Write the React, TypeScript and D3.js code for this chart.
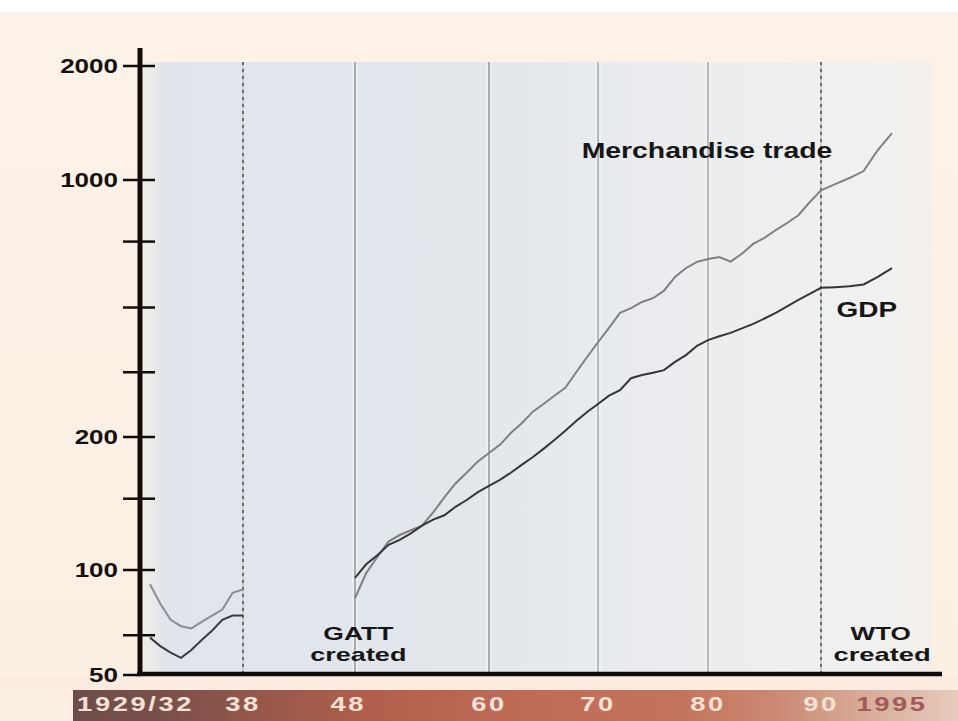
import React from "react";
import * as d3 from "d3";

// ---------- data ----------
const prewarYears = [1929, 1930, 1931, 1932, 1933, 1934, 1935, 1936, 1937, 1938];
const prewarMerch = [91, 80, 72, 69, 68, 71, 74, 77, 86, 88];
const prewarGdp = [64, 60.5, 58, 56, 59, 63, 67, 72, 74, 74];

const postwarYears = [
  1948, 1949, 1950, 1951, 1952, 1953, 1954, 1955, 1956, 1957, 1958, 1959,
  1960, 1961, 1962, 1963, 1964, 1965, 1966, 1967, 1968, 1969, 1970, 1971,
  1972, 1973, 1974, 1975, 1976, 1977, 1978, 1979, 1980, 1981, 1982, 1983,
  1984, 1985, 1986, 1987, 1988, 1989, 1990, 1991, 1992, 1993, 1994, 1995,
];
const postwarMerch = [
  83, 98, 107, 116, 120, 123, 126, 135, 146, 157, 166, 176,
  184, 192, 205, 218, 234, 246, 259, 272, 300, 330, 362, 396,
  435, 448, 466, 477, 500, 545, 576, 599, 610, 617, 600, 630,
  670, 696, 731, 764, 802, 871, 938, 975, 1012, 1056, 1200, 1330,
];
const postwarGdp = [
  95, 103, 108, 114, 117, 121, 126, 130, 133, 139, 144, 150,
  155, 160, 166, 173, 180, 188, 197, 208, 221, 234, 246, 259,
  268, 289, 295, 299, 304, 320, 334, 354, 367, 376, 384, 395,
  406, 420, 435, 453, 472, 490, 509, 511, 514, 520, 545, 576,
];

const yTickValues = [50, 65, 100, 145, 200, 300, 450, 680, 1000, 2000];
const yLabelValues = [50, 100, 200, 1000, 2000];

const gridYears = [1938, 1948, 1960, 1970, 1980, 1990];
const xTickLabels = ["1929/32", "38", "48", "60", "70", "80", "90", "1995"];
const xTickLabelYears = [1927.6, 1938, 1947.4, 1960, 1970, 1980, 1990, 1995];

// ---------- layout ----------
const W = 958;
const H = 721;
const plotTop = 62;
const plotBottom = 672;
const plotLeft = 143;
const plotRight = 932;
const axisX = 140;
const axisY = 674;

const xBreakYears = [1929, 1938, 1948, 1960, 1970, 1980, 1990, 1995];
const xBreakPx = [150, 243, 355, 489, 598, 708, 821, 892];
const yBreakValues = [50, 100, 200, 1000, 2000];
const yBreakPx = [675, 570, 437, 180, 66];

const FONT = "'Liberation Sans', Arial, Helvetica, sans-serif";

type STextProps = {
  x: number;
  y: number;
  size: number;
  anchor?: "start" | "middle" | "end";
  sx?: number;
  fill?: string;
  weight?: number;
  ls?: number;
  children: React.ReactNode;
};

function SText({ x, y, size, anchor = "start", sx = 1.3, fill = "#161616", weight = 700, ls = 0, children }: STextProps) {
  return (
    <text
      transform={`translate(${x},${y}) scale(${sx},1)`}
      textAnchor={anchor}
      fontSize={size}
      fontWeight={weight}
      fill={fill}
      fontFamily={FONT}
      letterSpacing={ls}
      dominantBaseline="central"
    >
      {children}
    </text>
  );
}

export default function App() {
  React.useEffect(() => {
    document.body.style.margin = "0";
  }, []);

  const x = d3.scaleLinear().domain(xBreakYears).range(xBreakPx);
  const y = d3.scaleLog().domain(yBreakValues).range(yBreakPx);

  const mkLine = (years: number[]) =>
    d3
      .line<number>()
      .x((_, i) => x(years[i]))
      .y((d) => y(d));

  const preLine = mkLine(prewarYears);
  const postLine = mkLine(postwarYears);

  const isDotted = (yr: number) => yr === 1938 || yr === 1990;

  return (
    <svg width={W} height={H} style={{ position: "absolute", left: 0, top: 0, display: "block" }}>
      <defs>
        <linearGradient id="plotBg" x1="0" x2="1" y1="0" y2="0">
          <stop offset="0" stopColor="#f1ede8" />
          <stop offset="0.03" stopColor="#dfe5eb" />
          <stop offset="0.4" stopColor="#e2e7ec" />
          <stop offset="0.65" stopColor="#eaecef" />
          <stop offset="0.95" stopColor="#f1f1f0" />
          <stop offset="1" stopColor="#f5efe9" />
        </linearGradient>
        <linearGradient id="bandBg" x1="0" x2="1" y1="0" y2="0">
          <stop offset="0" stopColor="#6e4c4a" />
          <stop offset="0.1" stopColor="#7a4f4a" />
          <stop offset="0.2" stopColor="#93574b" />
          <stop offset="0.33" stopColor="#b05f4c" />
          <stop offset="0.5" stopColor="#be6b56" />
          <stop offset="0.68" stopColor="#c3735c" />
          <stop offset="0.8" stopColor="#cb8a74" />
          <stop offset="0.9" stopColor="#d9ad9a" />
          <stop offset="1" stopColor="#e6cbbd" />
        </linearGradient>
        <linearGradient id="topFade" x1="0" x2="0" y1="0" y2="1">
          <stop offset="0" stopColor="#fdf2e8" />
          <stop offset="1" stopColor="#fbeee3" />
        </linearGradient>
      </defs>

      {/* page background */}
      <rect x={0} y={0} width={W} height={H} fill="url(#topFade)" />
      <rect x={0} y={0} width={W} height={12} fill="#ffffff" />

      {/* plot background */}
      <rect x={plotLeft} y={plotTop} width={plotRight - plotLeft} height={plotBottom - plotTop} fill="url(#plotBg)" />

      {/* bottom strip and band */}
      <rect x={0} y={axisY + 2} width={W} height={14} fill="#fbece2" />
      <rect x={73} y={690} width={W - 73} height={H - 690} fill="url(#bandBg)" />

      {/* vertical gridlines */}
      {gridYears.map((yr) => {
        const gx = x(yr);
        if (isDotted(yr)) {
          return (
            <g key={yr}>
              <line x1={gx} x2={gx} y1={plotTop} y2={plotBottom} stroke="#c9cbcd" strokeWidth={2} />
              <line x1={gx} x2={gx} y1={plotTop} y2={plotBottom} stroke="#6b6b6b" strokeWidth={2} strokeDasharray="3,4" />
            </g>
          );
        }
        const col = yr === 1948 || yr === 1960 ? "#a9abad" : "#b6b8ba";
        return (
          <g key={yr}>
            <line x1={gx} x2={gx} y1={plotTop} y2={plotBottom} stroke="#f4f5f6" strokeWidth={6} opacity={0.6} />
            <line x1={gx} x2={gx} y1={plotTop} y2={plotBottom} stroke={col} strokeWidth={2} />
          </g>
        );
      })}

      {/* data lines */}
      <path d={preLine(prewarMerch) || ""} fill="none" stroke="#8d8d8f" strokeWidth={2} />
      <path d={preLine(prewarGdp) || ""} fill="none" stroke="#3c3c3e" strokeWidth={2} />
      <path d={postLine(postwarMerch) || ""} fill="none" stroke="#808082" strokeWidth={2} />
      <path d={postLine(postwarGdp) || ""} fill="none" stroke="#363638" strokeWidth={2} />

      {/* axes */}
      <line x1={axisX} x2={axisX} y1={48} y2={axisY + 2} stroke="#120d0a" strokeWidth={5} />
      <line x1={axisX - 3} x2={942} y1={axisY} y2={axisY} stroke="#120d0a" strokeWidth={4.5} />
      {yTickValues.map((v) => (
        <line key={v} x1={123} x2={v === 50 ? axisX : 155} y1={y(v)} y2={y(v)} stroke="#120d0a" strokeWidth={2.5} />
      ))}
      {yLabelValues.map((v) => (
        <SText key={v} x={118} y={y(v)} size={20} anchor="end" sx={1.3} fill="#141010">
          {String(v)}
        </SText>
      ))}

      {/* x labels in band */}
      {xTickLabels.map((lab, i) => (
        <SText
          key={lab}
          x={x(xTickLabelYears[i])}
          y={704}
          size={21}
          anchor="middle"
          sx={1.3}
          ls={2}
          fill={lab === "1995" ? "#a05a57" : "#f4e2d6"}
        >
          {lab}
        </SText>
      ))}

      {/* annotations */}
      <SText x={x(1968.5)} y={y(1200)} size={22} sx={1.29}>
        Merchandise trade
      </SText>
      <SText x={x(1991.1)} y={y(446)} size={22} sx={1.27}>
        GDP
      </SText>
      <SText x={x(1948.3)} y={634} size={18} anchor="middle" sx={1.47}>
        GATT
      </SText>
      <SText x={x(1948.3)} y={655} size={18} anchor="middle" sx={1.5}>
        created
      </SText>
      <SText x={x(1994.2)} y={634} size={18} anchor="middle" sx={1.45}>
        WTO
      </SText>
      <SText x={x(1994.3)} y={655} size={18} anchor="middle" sx={1.52}>
        created
      </SText>
    </svg>
  );
}
